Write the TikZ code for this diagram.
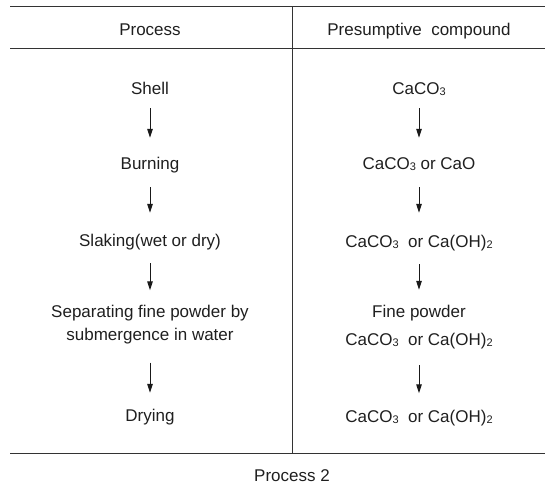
\documentclass[tikz,border=0pt]{standalone}
\usepackage{fontspec}
\setmainfont{Liberation Sans}
\usetikzlibrary{positioning,arrows.meta}
\tikzset{
  txt/.style  ={font=\fontsize{17}{22}\selectfont, text=black!88, inner sep=0pt,
                anchor=base, text height=12.5pt, text depth=3.5pt},
  rule/.style ={line width=1pt, black!80},
  fl/.style   ={-{Triangle[length=9pt,width=5.5pt]}, line width=1pt, black!90}
}
\newcommand{\sm}[1]{\raisebox{-1pt}{\fontsize{11}{11}\selectfont #1}}

\begin{document}
\begin{tikzpicture}[x=1pt,y=-1pt]
  \useasboundingbox (0,0) rectangle (545,487);
  % table rules
  \draw[rule] (10,7) -- (545,7);
  \draw[rule] (10,49) -- (545,49);
  \draw[rule] (10,453) -- (545,453);
  \draw[rule] (292,7) -- (292,453);

  % headers
  \node[txt] (hp) at (150,35.5) {Process};
  \node[txt] (hc) at (419,35.5) {Presumptive\ \ compound};

  % process column
  \node[txt] (shell) at (150,94.5)  {Shell};
  \node[txt] (burn)  at (150,169.5) {Burning};
  \node[txt] (slak)  at (150,246.5) {Slaking(wet or dry)};
  \node[txt] (sep)   at (150,317)   {Separating fine powder by};
  \node[txt] (sub)   at (150,340)   {submergence in water};
  \node[txt] (dry)   at (150,421.5) {Drying};

  % compound column
  \node[txt] (c1)  at (419,94.5)  {CaCO\sm{3}};
  \node[txt] (c2)  at (419,169.5) {CaCO\sm{3} or CaO};
  \node[txt] (c3)  at (419,247.5) {CaCO\sm{3}\ \ or Ca(OH)\sm{2}};
  \node[txt] (c4)  at (419,317.5) {Fine powder};
  \node[txt] (c4b) at (419,345.5) {CaCO\sm{3}\ \ or Ca(OH)\sm{2}};
  \node[txt] (c5)  at (419,422)   {CaCO\sm{3}\ \ or Ca(OH)\sm{2}};

  \draw[fl,shorten <=10pt,shorten >=19pt](shell)--(burn);
  \draw[fl,shorten <=14pt,shorten >=21pt](burn)--(slak);
  \draw[fl,shorten <=13pt,shorten >=14pt](slak)--(sep);
  \draw[fl,shorten <=19pt,shorten >=16pt](sub)--(dry);
  \draw[fl,shorten <=10pt,shorten >=19pt](c1)--(c2);
  \draw[fl,shorten <=14pt,shorten >=22pt](c2)--(c3);
  \draw[fl,shorten <=13pt,shorten >=15pt](c3)--(c4);
  \draw[fl,shorten <=16pt,shorten >=16pt](c4b)--(c5);

  \node[txt] (cap) at (292,481.5) {Process 2};
\end{tikzpicture}
\end{document}
